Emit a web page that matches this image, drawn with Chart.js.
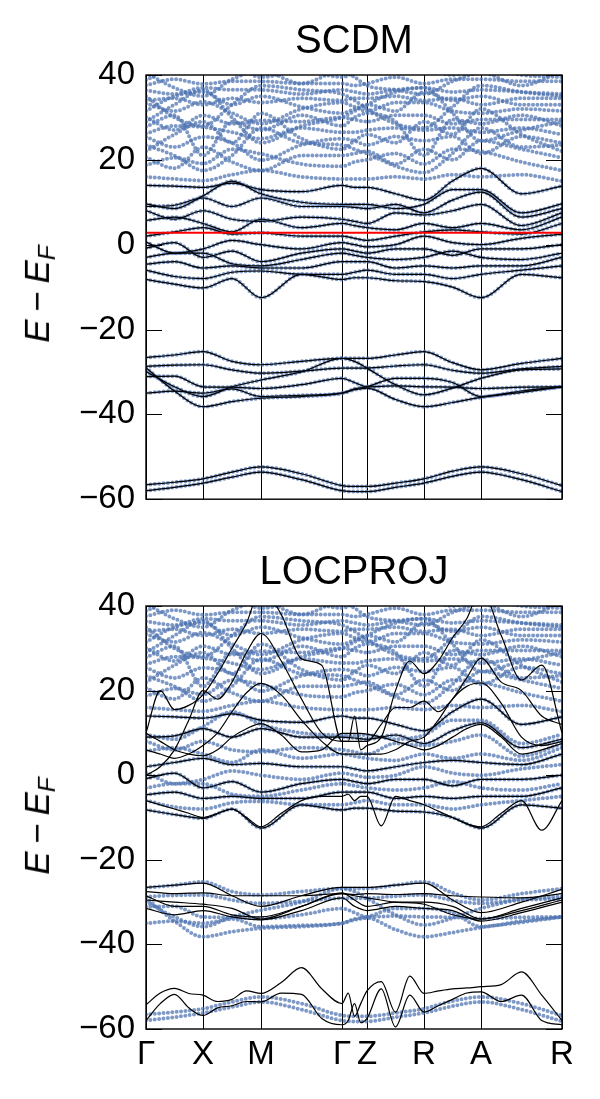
<!DOCTYPE html>
<html>
<head>
    <title>SCDM / LOCPROJ</title>
    <meta charset="UTF-8">
    <script src="https://cdn.jsdelivr.net/npm/chart.js"></script>
    <style>
        body {
            margin: 0;
            background-color: #fff;
            font-family: 'Liberation Sans', Arial, sans-serif;
        }
        .panel {
            position: absolute;
            left: 0;
            width: 600px;
        }
        #topPanel { top: 0; height: 530px; }
        #bottomPanel { top: 531px; height: 568px; }
        .ylabel {
            position: absolute;
            left: 39px;
            transform: translate(-50%, -50%) rotate(-90deg);
            font-size: 35px;
            white-space: nowrap;
            color: #000;
        }
        .ylabel .op { padding: 0 0.22em; }
        .ylabel sub { font-size: 0.7em; vertical-align: -0.25em; }
    </style>
</head>
<body>
    <div class="panel" id="topPanel"><canvas id="chartTop"></canvas></div>
    <div class="panel" id="bottomPanel"><canvas id="chartBottom"></canvas></div>
    <div class="ylabel" style="top: 294px;"><i>E</i><span class="op">&minus;</span><i>E<sub>F</sub></i></div>
    <div class="ylabel" style="top: 826px;"><i>E</i><span class="op">&minus;</span><i>E<sub>F</sub></i></div>
    <script>
    // k-path
    const kTicks = [0, 57, 115, 196, 221, 278, 335, 416];
    const kLabels = ['Γ', 'X', 'M', 'Γ', 'Z', 'R', 'A', 'R'];
    const kCoarse = [0, 28.5, 57, 86, 115, 155.5, 196, 208.5, 221, 249.5, 278, 306.5, 335, 375.5, 416];
    const kFine = [0, 14.25, 28.5, 42.75, 57, 71.5, 86, 100.5, 115, 135.25, 155.5, 175.75, 196,
                   202.25, 208.5, 214.75, 221, 235.25, 249.5, 263.75, 278, 292.25, 306.5, 320.75, 335,
                   355.25, 375.5, 395.75, 416];
    const yTicks = [40, 20, 0, -20, -40, -60];
    const scdmLevel = 2.8;

    // DFT bands (blue dots), sampled on kCoarse
    const dftLow = [
        [-56.6, -56.0, -55.2, -53.6, -52.4, -54.0, -56.8, -57.0, -57.0, -56.2, -55.2, -53.4, -52.4, -54.0, -56.8],
        [-58.0, -57.2, -56.2, -54.8, -53.6, -55.4, -58.0, -58.2, -58.2, -57.2, -56.2, -54.6, -53.6, -55.4, -58.2]
    ];
    const dftMid = [
        [-26.6, -26.0, -25.2, -27.5, -28.3, -27.5, -26.8, -26.8, -26.8, -26.0, -25.2, -27.8, -29.5, -28.0, -26.8],
        [-28.7, -28.4, -28.3, -29.5, -30.3, -29.8, -29.1, -29.1, -29.1, -28.6, -28.3, -29.6, -30.3, -29.3, -28.7],
        [-29.9, -33.5, -35.8, -33.5, -31.9, -30.0, -26.8, -27.5, -29.1, -33.0, -35.4, -33.8, -31.5, -29.5, -29.3],
        [-31.1, -31.0, -33.5, -33.6, -33.9, -33.0, -31.5, -32.5, -33.5, -33.3, -33.5, -33.6, -33.9, -33.6, -33.5],
        [-35.0, -34.5, -35.0, -34.0, -35.8, -35.5, -35.0, -34.0, -33.5, -31.5, -31.5, -32.5, -35.8, -34.5, -33.5],
        [-29.0, -34.5, -38.2, -37.0, -36.2, -35.8, -35.0, -34.2, -33.8, -36.5, -38.2, -37.2, -36.0, -34.8, -33.5]
    ];
    const dftValence = [
        [14.0, 13.8, 13.5, 14.5, 13.0, 12.5, 14.0, 13.5, 13.5, 12.0, 10.5, 15.0, 18.0, 12.0, 13.8],
        [9.6, 8.5, 11.5, 15.0, 12.0, 10.0, 9.5, 9.5, 9.5, 8.5, 9.5, 13.0, 13.0, 7.5, 9.6],
        [9.0, 9.3, 11.0, 9.0, 11.0, 9.0, 9.0, 8.8, 8.5, 9.5, 7.5, 10.5, 12.4, 6.5, 8.5],
        [8.0, 6.0, 8.0, 6.0, 5.5, 6.5, 6.0, 5.5, 5.0, 7.5, 7.0, 8.0, 9.5, 4.5, 7.5],
        [5.7, 6.5, 5.0, 3.0, 6.0, 4.0, 5.0, 4.5, 4.0, 3.5, 5.0, 4.0, 5.0, 3.5, 6.5],
        [2.0, 3.0, 4.0, 2.5, 2.8, 2.0, 2.0, 1.5, 1.0, 2.0, 3.0, 3.5, 3.0, 2.5, 5.0],
        [0.6, -2.0, -1.0, 1.0, 0.0, -1.0, 0.5, 0.0, -0.5, 0.0, 2.0, 0.5, 0.0, 1.5, 2.5],
        [-0.8, 0.5, -3.0, -1.5, -4.0, -2.0, -1.0, -1.5, -2.0, -1.0, -1.0, -2.5, -1.0, -1.0, 0.0],
        [-3.0, -2.0, -2.0, -4.5, -5.0, -3.5, -2.0, -2.5, -3.0, -3.5, -3.0, -1.5, -3.0, -3.5, -2.0],
        [-4.6, -4.0, -5.5, -5.0, -5.5, -5.5, -4.0, -4.0, -4.0, -5.5, -5.0, -5.5, -5.0, -5.0, -3.0],
        [-6.0, -7.5, -8.0, -6.5, -6.2, -7.0, -7.0, -6.5, -6.0, -7.0, -7.0, -8.0, -7.0, -6.0, -5.0],
        [-8.2, -9.3, -10.2, -8.0, -12.5, -7.0, -8.2, -7.8, -7.8, -8.5, -8.7, -10.0, -12.5, -7.0, -7.8]
    ];
    const dftHigh = [
        [16.0, 15.5, 15.1, 16.5, 17.5, 16.0, 15.5, 15.5, 15.5, 16.0, 15.5, 16.5, 16.0, 16.5, 15.0],
        [18.7, 20.5, 19.1, 22.5, 21.4, 19.0, 18.5, 19.5, 20.0, 21.5, 19.0, 22.5, 22.0, 19.5, 17.5],
        [20.6, 18.0, 23.0, 19.5, 17.5, 21.0, 21.0, 21.5, 22.0, 19.0, 22.5, 20.0, 24.5, 22.5, 20.5],
        [25.4, 23.0, 25.4, 24.0, 19.9, 23.5, 25.0, 24.5, 23.5, 25.5, 24.5, 25.5, 21.5, 25.5, 24.0],
        [26.2, 28.0, 27.7, 26.5, 25.0, 27.5, 26.5, 26.5, 27.0, 27.5, 27.0, 27.5, 26.5, 27.5, 26.0],
        [22.0, 26.0, 29.0, 24.0, 31.0, 25.0, 22.5, 24.5, 26.0, 24.0, 29.0, 26.0, 32.0, 26.0, 22.0],
        [27.8, 30.5, 21.0, 29.0, 27.0, 30.5, 28.0, 30.0, 31.0, 29.0, 21.0, 29.5, 28.5, 30.5, 28.0],
        [30.1, 27.0, 30.5, 28.5, 29.3, 29.0, 30.0, 29.5, 29.0, 30.5, 30.5, 28.5, 29.5, 29.5, 29.5],
        [33.3, 31.5, 33.7, 31.0, 28.5, 32.0, 33.5, 32.5, 31.5, 33.5, 33.5, 31.5, 31.0, 32.0, 31.5],
        [31.5, 35.0, 36.0, 33.0, 35.0, 32.5, 31.0, 32.0, 33.0, 31.5, 36.0, 34.0, 35.0, 33.0, 33.0],
        [34.0, 34.5, 33.0, 34.5, 33.5, 34.5, 34.0, 34.5, 34.5, 35.0, 34.0, 34.5, 33.0, 34.5, 34.5],
        [36.4, 35.5, 37.0, 36.5, 36.5, 35.5, 36.5, 36.0, 35.5, 36.5, 37.0, 36.0, 36.5, 36.0, 35.5],
        [37.6, 39.0, 37.9, 38.5, 38.5, 38.0, 38.0, 37.5, 38.0, 39.5, 38.0, 39.0, 39.0, 38.5, 38.5],
        [38.8, 41.5, 40.5, 42.0, 39.5, 41.0, 39.5, 40.5, 41.0, 40.5, 41.5, 40.0, 42.0, 40.0, 39.5],
        [29.0, 33.0, 36.5, 30.0, 24.0, 28.0, 30.0, 31.5, 33.0, 36.0, 37.0, 31.0, 24.5, 27.0, 29.0],
        [23.5, 21.0, 17.5, 21.0, 27.5, 24.0, 23.5, 22.5, 21.5, 18.5, 17.0, 21.5, 27.5, 23.0, 23.5],
        [35.0, 30.0, 28.0, 33.0, 37.5, 36.5, 35.5, 34.0, 32.0, 28.5, 27.5, 32.5, 37.5, 36.0, 35.0],
        [40.5, 37.0, 35.0, 39.0, 41.0, 38.0, 41.0, 39.5, 37.5, 36.5, 35.5, 38.5, 40.5, 37.5, 41.0]
    ];

    // LOCPROJ Wannier bands (black lines)
    const locMid = [
        [-26.5, -26.0, -25.5, -28.5, -31.0, -28.5, -26.5, -26.5, -26.5, -26.0, -25.5, -29.5, -32.5, -30.0, -27.0],
        [-27.5, -28.0, -27.8, -28.5, -28.5, -28.5, -28.0, -28.2, -28.0, -28.2, -28.0, -28.5, -28.8, -29.0, -28.0],
        [-28.5, -31.0, -31.0, -33.0, -33.5, -31.0, -28.0, -28.5, -29.0, -30.0, -30.5, -33.0, -34.0, -31.5, -29.0],
        [-29.5, -30.0, -30.5, -31.5, -34.0, -31.0, -27.8, -29.5, -31.0, -30.0, -30.0, -31.0, -34.0, -32.0, -29.5],
        [-31.5, -33.0, -32.0, -33.5, -34.2, -32.0, -29.0, -31.0, -32.0, -31.0, -31.5, -32.0, -34.5, -32.5, -30.0]
    ];
    const locLow1 = [-54.3, -51.5, -50.4, -51.6, -52, -53.5, -53, -51, -51.6, -49, -45.5, -50.5, -54, -51.5, -57, -54, -51,
                     -48.8, -56, -47.5, -51.6, -51, -50.5, -50.3, -50, -49.5, -46.5, -52, -58];
    const locLow2 = [-58, -54, -51.8, -55, -56.8, -55, -54.5, -53.5, -53.6, -51.5, -51.8, -57.5, -59, -58, -54, -58.5, -57.5,
                     -50.5, -59.5, -52, -56, -54.5, -53, -51.5, -51.2, -53.5, -52, -58, -59];
    const locUp1 = [10, 20, 15.5, 16.5, 19, 24, 30, 36, 44, 38, 27.5, 26, 8, 8, 14, 6, 7, 9, 20, 27, 24, 27, 32.5, 37, 44, 33, 22.5, 26, 10];
    const locUp2 = [0, 2, 6, 13, 20, 18, 22, 29, 33.5, 27, 18, 10, 8, 8, 8, 8, 8, 12, 16, 16, 17.5, 15, 18, 23, 27.7, 22, 20, 14, 12];
    const locUp3 = [6, 5, 4, 5, 7, 10, 15, 19.5, 21.7, 19, 13, 8, 5, 5, 5, 5, 5, 5, 6, 8, 9, 13, 18, 21, 21.8, 17, 9, 7, 8];
    const locUp4 = [9.9, 8, 6, 5, 4.6, 6, 9, 11, 12.2, 9.5, 5.5, 6, 9.9, 9.9, 9.9, 9.9, 9.7, 9, 8, 7, 6, 7, 9, 11, 12, 9, 5, 6, 7.5];
    const locUp5 = [-6, -7, -8, -9, -10, -9, -8, -10, -12.2, -9, -6, -5, -5, -4.5, -6, -5, -5, -12, -5, -6, -7, -8.5, -10, -11.5, -12.2, -9, -6, -13, -6];
    const locShared = [0, 2, 5, 7, 9, 11]; // dftValence rows that LOCPROJ keeps

    const FONT = "'Liberation Sans', Arial, sans-serif";
    const BLUE = 'rgba(76, 114, 176, 0.72)';

    function pts(grid, vals) {
        return vals.map((v, i) => ({x: grid[i], y: v}));
    }
    function blueSet(vals) {
        return {data: pts(kCoarse, vals), borderColor: BLUE, borderWidth: 4, borderDash: [0, 4.4],
                borderCapStyle: 'round', pointRadius: 0, cubicInterpolationMode: 'monotone', order: 2};
    }
    function blackSet(grid, vals) {
        return {data: pts(grid, vals), borderColor: '#000', borderWidth: 1.2, pointRadius: 0,
                cubicInterpolationMode: 'monotone', order: 1};
    }

    // frame, inward y ticks and a title centred on the plot area
    const framePlugin = {
        id: 'frame',
        afterDraw(chart, args, opts) {
            const {ctx, chartArea: a} = chart;
            const y = chart.scales.y;
            ctx.save();
            ctx.strokeStyle = '#000';
            ctx.lineWidth = 1;
            ctx.beginPath();
            yTicks.forEach(v => {
                const py = Math.round(y.getPixelForValue(v)) + 0.5;
                ctx.moveTo(a.left, py); ctx.lineTo(a.left + 16, py);
                ctx.moveTo(a.right, py); ctx.lineTo(a.right - 16, py);
            });
            ctx.stroke();
            ctx.lineWidth = 1.4;
            ctx.strokeRect(a.left, a.top, a.right - a.left, a.bottom - a.top);
            ctx.fillStyle = '#000';
            ctx.font = '40px ' + FONT;
            ctx.textAlign = 'center';
            ctx.textBaseline = 'middle';
            ctx.fillText(opts.text, (a.left + a.right) / 2, a.top - 33);
            ctx.restore();
        }
    };

    function makePanel(id, title, datasets, showLabels) {
        return new Chart(document.getElementById(id), {
            type: 'line',
            data: {datasets: datasets},
            options: {
                responsive: true,
                maintainAspectRatio: false,
                animation: false,
                layout: {padding: {left: 0, right: 38, top: 75, bottom: 0}},
                plugins: {
                    legend: {display: false},
                    tooltip: {enabled: false},
                    title: {display: false},
                    frame: {text: title}
                },
                scales: {
                    x: {
                        type: 'linear',
                        min: 0,
                        max: 416,
                        afterBuildTicks: s => { s.ticks = kTicks.map(v => ({value: v})); },
                        afterFit: s => { s.height = showLabels ? 70 : 23; },
                        grid: {color: '#000', lineWidth: 1, drawTicks: false},
                        border: {display: false},
                        ticks: {
                            display: showLabels,
                            autoSkip: false,
                            maxRotation: 0,
                            padding: 6,
                            color: '#000',
                            font: {family: FONT, size: 33},
                            callback: (v, i) => kLabels[i]
                        }
                    },
                    y: {
                        min: -60,
                        max: 40,
                        afterBuildTicks: s => { s.ticks = yTicks.map(v => ({value: v})); },
                        afterFit: s => { s.width = 146; },
                        grid: {display: false, drawTicks: false},
                        border: {display: false},
                        ticks: {
                            padding: 11,
                            color: '#000',
                            font: {family: FONT, size: 33},
                            callback: v => String(v).replace('-', '\u2212')
                        }
                    }
                }
            },
            plugins: [framePlugin]
        });
    }

    const dftAll = dftLow.concat(dftMid, dftValence, dftHigh);

    const topSets = dftAll.map(blueSet)
        .concat(dftLow.concat(dftMid, dftValence).map(b => blackSet(kCoarse, b)));
    topSets.push({data: [{x: 0, y: scdmLevel}, {x: 416, y: scdmLevel}], borderColor: '#ff0000',
                  borderWidth: 2, pointRadius: 0, order: 0});

    const bottomSets = dftAll.map(blueSet)
        .concat(locMid.map(b => blackSet(kCoarse, b)))
        .concat(locShared.map(i => blackSet(kCoarse, dftValence[i])))
        .concat([locLow1, locLow2, locUp1, locUp2, locUp3, locUp4, locUp5].map(b => blackSet(kFine, b)));

    makePanel('chartTop', 'SCDM', topSets, false);
    makePanel('chartBottom', 'LOCPROJ', bottomSets, true);
    </script>
</body>
</html>
